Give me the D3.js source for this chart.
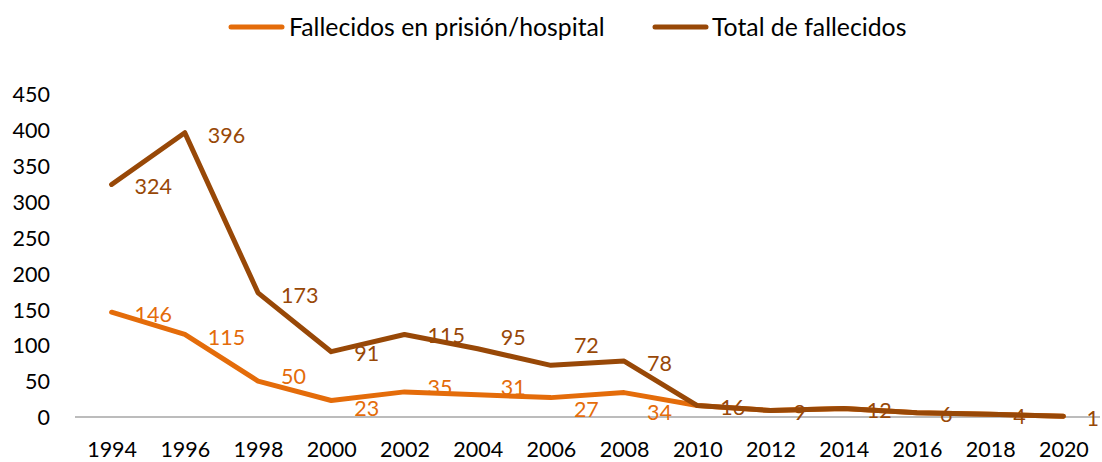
<!DOCTYPE html>
<html>
<head>
<meta charset="utf-8">
<script src="https://cdn.jsdelivr.net/npm/d3@7"></script>
<style>
  body { margin: 0; background: #fff; }
  svg text { font-family: Lato, "Open Sans", sans-serif; }
</style>
</head>
<body>
<div id="chart"></div>
<script>
// datos
const years = ["1994", "1996", "1998", "2000", "2002", "2004", "2006", "2008", "2010", "2012", "2014", "2016", "2018", "2020"];
const prisionHospital = [146, 115, 50, 23, 35, 31, 27, 34, 16, 9, 12, 6, 4, 1];
const totalFallecidos = [324, 396, 173, 91, 115, 95, 72, 78, 16, 9, 12, 6, 4, 1];
const yTicks = [0, 50, 100, 150, 200, 250, 300, 350, 400, 450];

const seriesNames = ["Fallecidos en prisión/hospital", "Total de fallecidos"];
const seriesColors = ["#E46C0A", "#984807"];

// desplazamiento vertical manual de las etiquetas (px), como en el original
const nudgePrision = [0, 1, -7, 6, -7, -9, 10, 18, 0, 0, 0, 0, 0, 0];
const nudgeTotal = [0, 0, 0, 0, -1, -14, -22, 0, 0, 0, 0, 0, 0, 0];

const width = 1102, height = 462;
const margin = { top: 94, right: 2, bottom: 45, left: 75 };

const svg = d3.select("#chart").append("svg")
    .attr("width", width)
    .attr("height", height);

const x = d3.scalePoint()
    .domain(years)
    .range([margin.left, width - margin.right])
    .padding(0.5);

const y = d3.scaleLinear()
    .domain([0, 450])
    .range([height - margin.bottom, margin.top]);

// eje X (solo la línea base)
svg.append("line")
    .attr("x1", margin.left)
    .attr("x2", width - margin.right)
    .attr("y1", y(0))
    .attr("y2", y(0))
    .attr("stroke", "#a6a6a6")
    .attr("stroke-width", 1.5);

svg.append("g")
    .attr("transform", `translate(0,${y(0)})`)
    .call(d3.axisBottom(x).tickSize(0).tickPadding(25))
    .call(g => g.select(".domain").remove())
    .call(g => g.selectAll("text")
        .attr("fill", "#000")
        .style("font-size", "21.5px")
        .style("font-family", "Lato, sans-serif"));

// eje Y
svg.append("g")
    .attr("transform", `translate(50,0)`)
    .call(d3.axisLeft(y).tickValues(yTicks).tickSize(0).tickPadding(0))
    .call(g => g.select(".domain").remove())
    .call(g => g.selectAll("text")
        .attr("fill", "#000")
        .attr("dy", "0.36em")
        .style("font-size", "21.5px")
        .style("font-family", "Lato, sans-serif"));

const line = d3.line()
    .x((d, i) => x(years[i]))
    .y(d => y(d));

const allSeries = [prisionHospital, totalFallecidos];
const allNudges = [nudgePrision, nudgeTotal];

allSeries.forEach((values, s) => {
    svg.append("path")
        .datum(values)
        .attr("fill", "none")
        .attr("stroke", seriesColors[s])
        .attr("stroke-width", 5)
        .attr("stroke-linejoin", "round")
        .attr("stroke-linecap", "round")
        .attr("d", line);
});

// etiquetas de datos (a la derecha del punto)
allSeries.forEach((values, s) => {
    svg.append("g")
        .selectAll("text")
        .data(values)
        .enter()
        .filter((d, i) => s === 1 || d !== totalFallecidos[i])   // las iguales quedan tapadas
        .append("text")
        .attr("x", (d, i) => x(years[i]) + 23)
        .attr("y", (d, i) => y(d) + 2 + allNudges[s][i])
        .attr("dy", "0.36em")
        .attr("fill", seriesColors[s])
        .style("font-size", "21.5px")
        .text(d => d);
});

// leyenda
const legendItems = [
    { x: 229, textX: 289 },
    { x: 653, textX: 712 }
];
legendItems.forEach((item, i) => {
    svg.append("line")
        .attr("x1", item.x + 2)
        .attr("x2", item.x + 53)
        .attr("y1", 27)
        .attr("y2", 27)
        .attr("stroke", seriesColors[i])
        .attr("stroke-width", 5)
        .attr("stroke-linecap", "round");
    svg.append("text")
        .attr("x", item.textX)
        .attr("y", 27)
        .attr("dy", "0.36em")
        .attr("fill", "#000")
        .style("font-size", "24.8px")
        .text(seriesNames[i]);
});
</script>
</body>
</html>
